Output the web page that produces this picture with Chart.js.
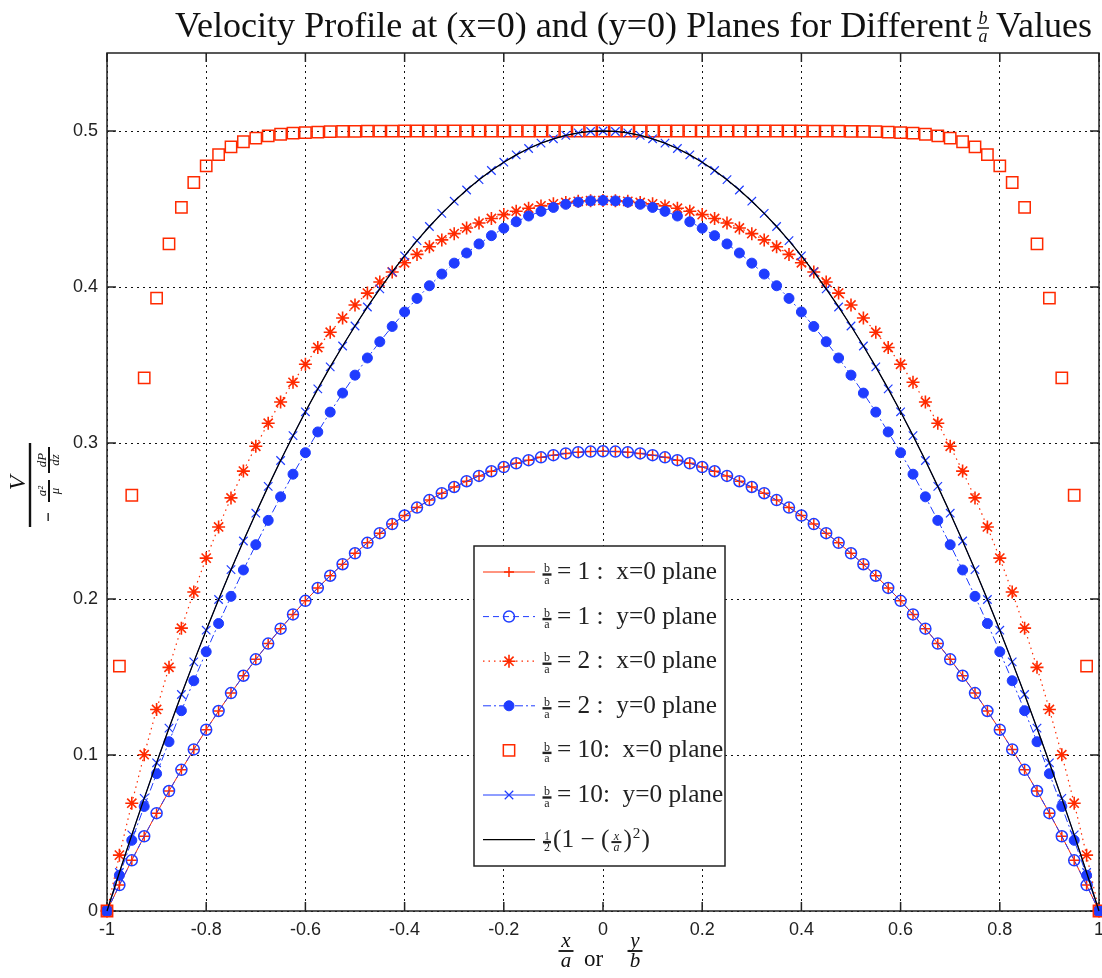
<!DOCTYPE html>
<html>
<head>
<meta charset="utf-8">
<script src="https://cdn.jsdelivr.net/npm/chart.js@4.4.1/dist/chart.umd.min.js"></script>
<style>
  html, body { margin: 0; padding: 0; background: #fff; }
  #wrap { width: 1102px; height: 978px; }
</style>
</head>
<body>
<div id="wrap"><canvas id="VelocityChart" width="1102" height="978"></canvas></div>
<script>
// x/a (or y/b) positions of every plotted point
const xPos = [-1, -0.975, -0.95, -0.925, -0.9, -0.875, -0.85, -0.825, -0.8, -0.775, -0.75, -0.725, -0.7, -0.675, -0.65, -0.625, -0.6, -0.575, -0.55, -0.525, -0.5, -0.475, -0.45, -0.425, -0.4, -0.375, -0.35, -0.325, -0.3, -0.275, -0.25, -0.225, -0.2, -0.175, -0.15, -0.125, -0.1, -0.075, -0.05, -0.025, 0, 0.025, 0.05, 0.075, 0.1, 0.125, 0.15, 0.175, 0.2, 0.225, 0.25, 0.275, 0.3, 0.325, 0.35, 0.375, 0.4, 0.425, 0.45, 0.475, 0.5, 0.525, 0.55, 0.575, 0.6, 0.625, 0.65, 0.675, 0.7, 0.725, 0.75, 0.775, 0.8, 0.825, 0.85, 0.875, 0.9, 0.925, 0.95, 0.975, 1];

// b/a = 1
const ba1XPlane = [0, 0.0166, 0.0325, 0.0479, 0.0627, 0.0769, 0.0905, 0.1036, 0.1162, 0.1282, 0.1397, 0.1508, 0.1613, 0.1714, 0.181, 0.1901, 0.1988, 0.2071, 0.2149, 0.2223, 0.2293, 0.236, 0.2422, 0.248, 0.2535, 0.2586, 0.2634, 0.2678, 0.2718, 0.2755, 0.2789, 0.2819, 0.2846, 0.287, 0.289, 0.2908, 0.2922, 0.2933, 0.2941, 0.2945, 0.2947, 0.2945, 0.2941, 0.2933, 0.2922, 0.2908, 0.289, 0.287, 0.2846, 0.2819, 0.2789, 0.2755, 0.2718, 0.2678, 0.2634, 0.2586, 0.2535, 0.248, 0.2422, 0.236, 0.2293, 0.2223, 0.2149, 0.2071, 0.1988, 0.1901, 0.181, 0.1714, 0.1613, 0.1508, 0.1397, 0.1282, 0.1162, 0.1036, 0.0905, 0.0769, 0.0627, 0.0479, 0.0325, 0.0166, 0];
const ba1YPlane = [0, 0.0166, 0.0325, 0.0479, 0.0627, 0.0769, 0.0905, 0.1036, 0.1162, 0.1282, 0.1397, 0.1508, 0.1613, 0.1714, 0.181, 0.1901, 0.1988, 0.2071, 0.2149, 0.2223, 0.2293, 0.236, 0.2422, 0.248, 0.2535, 0.2586, 0.2634, 0.2678, 0.2718, 0.2755, 0.2789, 0.2819, 0.2846, 0.287, 0.289, 0.2908, 0.2922, 0.2933, 0.2941, 0.2945, 0.2947, 0.2945, 0.2941, 0.2933, 0.2922, 0.2908, 0.289, 0.287, 0.2846, 0.2819, 0.2789, 0.2755, 0.2718, 0.2678, 0.2634, 0.2586, 0.2535, 0.248, 0.2422, 0.236, 0.2293, 0.2223, 0.2149, 0.2071, 0.1988, 0.1901, 0.181, 0.1714, 0.1613, 0.1508, 0.1397, 0.1282, 0.1162, 0.1036, 0.0905, 0.0769, 0.0627, 0.0479, 0.0325, 0.0166, 0];

// b/a = 2
const ba2XPlane = [0, 0.0358, 0.0691, 0.1002, 0.1292, 0.1562, 0.1813, 0.2045, 0.2262, 0.2462, 0.2648, 0.282, 0.2979, 0.3127, 0.3263, 0.3389, 0.3505, 0.3612, 0.371, 0.3801, 0.3885, 0.3961, 0.4032, 0.4096, 0.4155, 0.4209, 0.4258, 0.4302, 0.4342, 0.4378, 0.441, 0.4439, 0.4464, 0.4486, 0.4505, 0.452, 0.4533, 0.4542, 0.4549, 0.4553, 0.4555, 0.4553, 0.4549, 0.4542, 0.4533, 0.452, 0.4505, 0.4486, 0.4464, 0.4439, 0.441, 0.4378, 0.4342, 0.4302, 0.4258, 0.4209, 0.4155, 0.4096, 0.4032, 0.3961, 0.3885, 0.3801, 0.371, 0.3612, 0.3505, 0.3389, 0.3263, 0.3127, 0.2979, 0.282, 0.2648, 0.2462, 0.2262, 0.2045, 0.1813, 0.1562, 0.1292, 0.1002, 0.0691, 0.0358, 0];
const ba2YPlane = [0, 0.0229, 0.0453, 0.067, 0.088, 0.1085, 0.1284, 0.1476, 0.1662, 0.1843, 0.2017, 0.2186, 0.2348, 0.2504, 0.2655, 0.28, 0.2938, 0.3071, 0.3198, 0.332, 0.3435, 0.3545, 0.3649, 0.3747, 0.384, 0.3927, 0.4008, 0.4083, 0.4153, 0.4218, 0.4276, 0.4329, 0.4377, 0.4418, 0.4455, 0.4485, 0.451, 0.453, 0.4544, 0.4552, 0.4555, 0.4552, 0.4544, 0.453, 0.451, 0.4485, 0.4455, 0.4418, 0.4377, 0.4329, 0.4276, 0.4218, 0.4153, 0.4083, 0.4008, 0.3927, 0.384, 0.3747, 0.3649, 0.3545, 0.3435, 0.332, 0.3198, 0.3071, 0.2938, 0.28, 0.2655, 0.2504, 0.2348, 0.2186, 0.2017, 0.1843, 0.1662, 0.1476, 0.1284, 0.1085, 0.088, 0.067, 0.0453, 0.0229, 0];

// b/a = 10
const ba10XPlane = [0, 0.157, 0.2665, 0.3417, 0.3929, 0.4276, 0.4511, 0.467, 0.4777, 0.4849, 0.4898, 0.4931, 0.4954, 0.4969, 0.4979, 0.4986, 0.499, 0.4993, 0.4996, 0.4997, 0.4998, 0.4999, 0.4999, 0.4999, 0.5, 0.5, 0.5, 0.5, 0.5, 0.5, 0.5, 0.5, 0.5, 0.5, 0.5, 0.5, 0.5, 0.5, 0.5, 0.5, 0.5, 0.5, 0.5, 0.5, 0.5, 0.5, 0.5, 0.5, 0.5, 0.5, 0.5, 0.5, 0.5, 0.5, 0.5, 0.5, 0.5, 0.4999, 0.4999, 0.4999, 0.4998, 0.4997, 0.4996, 0.4993, 0.499, 0.4986, 0.4979, 0.4969, 0.4954, 0.4931, 0.4898, 0.4849, 0.4777, 0.467, 0.4511, 0.4276, 0.3929, 0.3417, 0.2665, 0.157, 0];
const ba10YPlane = [0, 0.0247, 0.0488, 0.0722, 0.095, 0.1172, 0.1388, 0.1597, 0.18, 0.1997, 0.2188, 0.2372, 0.255, 0.2722, 0.2888, 0.3047, 0.32, 0.3347, 0.3488, 0.3622, 0.375, 0.3872, 0.3988, 0.4097, 0.42, 0.4297, 0.4388, 0.4472, 0.455, 0.4622, 0.4688, 0.4747, 0.48, 0.4847, 0.4888, 0.4922, 0.495, 0.4972, 0.4988, 0.4997, 0.5, 0.4997, 0.4988, 0.4972, 0.495, 0.4922, 0.4888, 0.4847, 0.48, 0.4747, 0.4688, 0.4622, 0.455, 0.4472, 0.4388, 0.4297, 0.42, 0.4097, 0.3988, 0.3872, 0.375, 0.3622, 0.3488, 0.3347, 0.32, 0.3047, 0.2888, 0.2722, 0.255, 0.2372, 0.2188, 0.1997, 0.18, 0.1597, 0.1388, 0.1172, 0.095, 0.0722, 0.0488, 0.0247, 0];

// 1/2 (1 - (x/a)^2) reference curve
const parabola = [0, 0.0247, 0.0488, 0.0722, 0.095, 0.1172, 0.1388, 0.1597, 0.18, 0.1997, 0.2188, 0.2372, 0.255, 0.2722, 0.2888, 0.3047, 0.32, 0.3347, 0.3488, 0.3622, 0.375, 0.3872, 0.3988, 0.4097, 0.42, 0.4297, 0.4388, 0.4472, 0.455, 0.4622, 0.4688, 0.4747, 0.48, 0.4847, 0.4888, 0.4922, 0.495, 0.4972, 0.4988, 0.4997, 0.5, 0.4997, 0.4988, 0.4972, 0.495, 0.4922, 0.4888, 0.4847, 0.48, 0.4747, 0.4688, 0.4622, 0.455, 0.4472, 0.4388, 0.4297, 0.42, 0.4097, 0.3988, 0.3872, 0.375, 0.3622, 0.3488, 0.3347, 0.32, 0.3047, 0.2888, 0.2722, 0.255, 0.2372, 0.2188, 0.1997, 0.18, 0.1597, 0.1388, 0.1172, 0.095, 0.0722, 0.0488, 0.0247, 0];

const xTicks = [-1, -0.8, -0.6, -0.4, -0.2, 0, 0.2, 0.4, 0.6, 0.8, 1];
const xTickLabels = ["-1", "-0.8", "-0.6", "-0.4", "-0.2", "0", "0.2", "0.4", "0.6", "0.8", "1"];
const yTicks = [0, 0.1, 0.2, 0.3, 0.4, 0.5];
const yTickLabels = ["0", "0.1", "0.2", "0.3", "0.4", "0.5"];

const legendText = ["= 1 :  x=0 plane", "= 1 :  y=0 plane", "= 2 :  x=0 plane", "= 2 :  y=0 plane", "= 10:  x=0 plane", "= 10:  y=0 plane"];

const red = "#ff2a00";
const blue = "#1f3cff";
const serif = "'Liberation Serif', 'DejaVu Serif', serif";

const toPoints = (ys) => xPos.map((x, i) => ({ x: x, y: ys[i] }));

const datasets = [
  { data: toPoints(ba1XPlane), borderColor: red, borderWidth: 1, pointStyle: "cross",
    pointRadius: 5, pointBorderColor: red, pointBackgroundColor: red, pointBorderWidth: 1.5 },
  { data: toPoints(ba1YPlane), borderColor: blue, borderWidth: 1, borderDash: [6, 4], pointStyle: "circle",
    pointRadius: 5.5, pointBorderColor: blue, pointBackgroundColor: "rgba(0,0,0,0)", pointBorderWidth: 1.5 },
  { data: toPoints(ba2XPlane), borderColor: red, borderWidth: 1.2, borderDash: [1.5, 4], pointStyle: "star",
    pointRadius: 6.5, pointBorderColor: red, pointBackgroundColor: red, pointBorderWidth: 1.6 },
  { data: toPoints(ba2YPlane), borderColor: blue, borderWidth: 1, borderDash: [8, 3, 2, 3], pointStyle: "circle",
    pointRadius: 5, pointBorderColor: blue, pointBackgroundColor: blue, pointBorderWidth: 1 },
  { data: toPoints(ba10XPlane), borderColor: red, showLine: false, pointStyle: "rect",
    pointRadius: 8, pointBorderColor: red, pointBackgroundColor: "rgba(0,0,0,0)", pointBorderWidth: 1.5 },
  { data: toPoints(ba10YPlane), borderColor: blue, borderWidth: 1, pointStyle: "crossRot",
    pointRadius: 6, pointBorderColor: blue, pointBackgroundColor: blue, pointBorderWidth: 1.2 },
  { data: toPoints(parabola), borderColor: "#000", borderWidth: 1.3, pointRadius: 0 },
];
datasets.forEach((d, i) => {
  d.tension = 0;
  d.clip = false;
  d.order = datasets.length - 1 - i; // later series on top
});

// small stacked fraction
const drawFrac = (ctx, num, den, cx, barY, size, barW, italic, barH) => {
  ctx.font = (italic ? "italic " : "") + size + "px " + serif;
  ctx.textAlign = "center";
  ctx.textBaseline = "alphabetic";
  ctx.fillText(num, cx, barY - size * 0.2);
  ctx.fillText(den, cx, barY + size * 0.78);
  const h = barH || 1.4;
  ctx.fillRect(cx - barW / 2, barY - h / 2, barW, h);
};

const framePlugin = {
  id: "frame",
  beforeDatasetsDraw(chart) {
    const { ctx, chartArea: a, scales } = chart;
    ctx.save();
    ctx.strokeStyle = "#222";
    ctx.lineWidth = 1.5;
    ctx.setLineDash([]);
    ctx.strokeRect(a.left, a.top, a.right - a.left, a.bottom - a.top);
    ctx.beginPath();
    xTicks.forEach((v) => {
      const px = scales.x.getPixelForValue(v);
      ctx.moveTo(px, a.bottom); ctx.lineTo(px, a.bottom - 9);
      ctx.moveTo(px, a.top); ctx.lineTo(px, a.top + 9);
    });
    yTicks.forEach((v) => {
      const py = scales.y.getPixelForValue(v);
      ctx.moveTo(a.left, py); ctx.lineTo(a.left + 9, py);
      ctx.moveTo(a.right, py); ctx.lineTo(a.right - 9, py);
    });
    ctx.stroke();
    ctx.restore();
  },
  afterDraw(chart) {
    const ctx = chart.ctx;
    ctx.save();
    ctx.fillStyle = "#111";

    // title
    const titleMain = "Velocity Profile at (x=0) and (y=0) Planes for Different";
    ctx.font = "30px " + serif;
    let ts = 30 * 797 / ctx.measureText(titleMain).width;
    ctx.font = ts.toFixed(2) + "px " + serif;
    ctx.textAlign = "left";
    ctx.textBaseline = "alphabetic";
    ctx.fillText(titleMain, 175, 37);
    ctx.textAlign = "right";
    ctx.fillText("Values", 1092, 37);
    drawFrac(ctx, "b", "a", 983, 28, 18, 12, true, 1.4);

    // y axis label
    ctx.save();
    ctx.translate(30, 485);
    ctx.rotate(-Math.PI / 2);
    ctx.fillRect(-42, -1.2, 84, 2.4);
    ctx.font = "italic 24px " + serif;
    ctx.textAlign = "center";
    ctx.textBaseline = "alphabetic";
    ctx.fillText("V", 2, -5);
    ctx.fillRect(-36, 17.5, 8, 1.3);
    drawFrac(ctx, "a²", "μ", -6, 19, 13, 22, true, 2);
    drawFrac(ctx, "dP", "dz", 25, 19, 13, 26, true, 2);
    ctx.restore();

    // x axis label
    drawFrac(ctx, "x", "a", 566, 951, 21, 15, true, 1.8);
    ctx.font = "23px " + serif;
    ctx.textAlign = "left";
    ctx.textBaseline = "alphabetic";
    ctx.fillText("or", 584, 966);
    drawFrac(ctx, "y", "b", 635, 951, 21, 15, true, 1.8);

    // legend
    const lx = 474, ly = 546, lw = 251, lh = 320;
    ctx.fillStyle = "#fff";
    ctx.fillRect(lx, ly, lw, lh);
    ctx.strokeStyle = "#222";
    ctx.lineWidth = 1.5;
    ctx.strokeRect(lx, ly, lw, lh);

    ctx.font = "20px " + serif;
    const fs = 20 * 160 / ctx.measureText(legendText[0]).width;
    const rowY = (i) => 572 + i * 44.6;

    chart.data.datasets.forEach((d, i) => {
      const y = rowY(i);
      ctx.save();
      if (d.showLine !== false) {
        ctx.strokeStyle = d.borderColor;
        ctx.lineWidth = d.borderWidth;
        ctx.setLineDash(d.borderDash || []);
        ctx.beginPath();
        ctx.moveTo(483, y);
        ctx.lineTo(535, y);
        ctx.stroke();
      }
      ctx.setLineDash([]);
      if (d.pointRadius > 0) {
        ctx.strokeStyle = d.pointBorderColor;
        ctx.fillStyle = d.pointBackgroundColor;
        ctx.lineWidth = d.pointBorderWidth;
        Chart.helpers.drawPoint(ctx, { pointStyle: d.pointStyle, radius: d.pointRadius, rotation: 0, borderWidth: d.pointBorderWidth }, 509, y);
      }
      ctx.restore();

      ctx.fillStyle = "#222";
      if (i < legendText.length) {
        drawFrac(ctx, "b", "a", 547, y + 2.5, 12, 9, false, 2.4);
        ctx.font = fs.toFixed(2) + "px " + serif;
        ctx.textAlign = "left";
        ctx.textBaseline = "alphabetic";
        ctx.fillText(legendText[i], 557, y + 7);
      } else {
        drawFrac(ctx, "1", "2", 547, y + 2.5, 12, 8, false, 2.4);
        ctx.font = fs.toFixed(2) + "px " + serif;
        ctx.textAlign = "left";
        ctx.textBaseline = "alphabetic";
        let cx = 553;
        const part1 = "(1 − (";
        ctx.fillText(part1, cx, y + 7);
        cx += ctx.measureText(part1).width + 1;
        drawFrac(ctx, "x", "a", cx + 6, y + 2.5, 12, 10, true, 2);
        cx += 13;
        ctx.font = fs.toFixed(2) + "px " + serif;
        ctx.textAlign = "left";
        ctx.fillText(")", cx, y + 7);
        cx += ctx.measureText(")").width + 1;
        ctx.font = (fs * 0.6).toFixed(2) + "px " + serif;
        ctx.fillText("2", cx, y - 2);
        cx += ctx.measureText("2").width + 1;
        ctx.font = fs.toFixed(2) + "px " + serif;
        ctx.fillText(")", cx, y + 7);
      }
    });
    ctx.restore();
  },
};

const ctx = document.getElementById("VelocityChart").getContext("2d");

const options = {
  responsive: false,
  animation: false,
  devicePixelRatio: 1,
  events: [],
  layout: { autoPadding: false, padding: { top: 53, right: 3, left: 0, bottom: 0 } },
  plugins: {
    legend: { display: false },
    title: { display: false },
    tooltip: { enabled: false },
  },
  scales: {
    x: {
      type: "linear",
      min: -1,
      max: 1,
      afterBuildTicks: (s) => { s.ticks = xTicks.map((v) => ({ value: v })); },
      afterFit: (s) => { s.height = 67; s.paddingLeft = 0; s.paddingRight = 0; },
      grid: { color: "#111", lineWidth: 1, drawTicks: false },
      border: { display: false, dash: [2, 4] },
      ticks: {
        callback: (v, i) => xTickLabels[i],
        font: { family: "'Liberation Sans', Arial, sans-serif", size: 18 },
        color: "#222",
        padding: 8,
        maxRotation: 0,
        autoSkip: false,
      },
    },
    y: {
      type: "linear",
      min: 0,
      max: 0.55,
      afterBuildTicks: (s) => { s.ticks = yTicks.map((v) => ({ value: v })); },
      afterFit: (s) => { s.width = 107; },
      grid: { color: "#111", lineWidth: 1, drawTicks: false },
      border: { display: false, dash: [2, 4] },
      ticks: {
        callback: (v, i) => yTickLabels[i],
        font: { family: "'Liberation Sans', Arial, sans-serif", size: 18 },
        color: "#222",
        padding: 9,
        autoSkip: false,
      },
    },
  },
};

const velocityChart = new Chart(ctx, {
  type: "line",
  data: { datasets: datasets },
  options: options,
  plugins: [framePlugin],
});
</script>
</body>
</html>
